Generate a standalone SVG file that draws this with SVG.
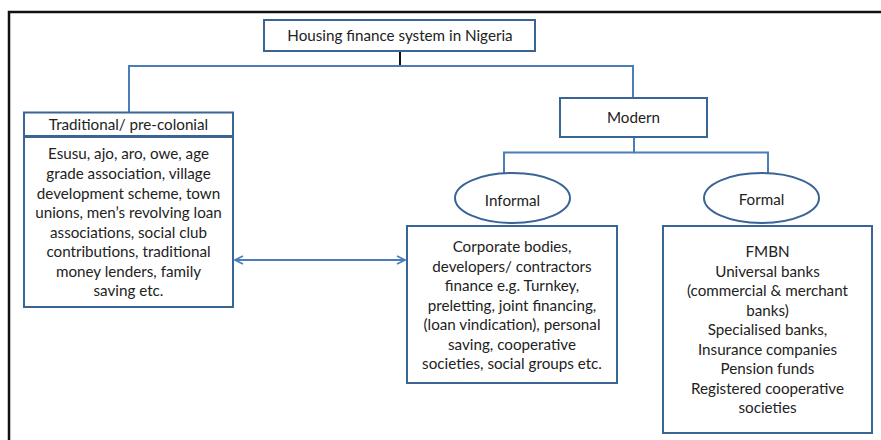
<svg xmlns="http://www.w3.org/2000/svg" width="881" height="440" viewBox="0 0 881 440">
<style>
.box{fill:#fff;stroke:#3a6496;stroke-width:2}
.con{fill:none;stroke:#4a7ebb;stroke-width:2}
text{font-family:Lato,"Open Sans","Liberation Sans",sans-serif;font-size:15.2px;fill:#222;text-anchor:middle}
</style>
<defs>
<marker id="arr" viewBox="0 0 10 10" refX="9" refY="5" markerWidth="10" markerHeight="10" markerUnits="userSpaceOnUse" orient="auto-start-reverse">
<path d="M1,1 L9,5 L1,9" fill="none" stroke="#4a7ebb" stroke-width="1.6"/>
</marker>
</defs>
<rect x="0" y="0" width="881" height="440" fill="#fff"/>
<path d="M9,445 V12 H890" fill="none" stroke="#111" stroke-width="2.5"/>
<g id="connectors">
<line x1="400" y1="51" x2="400" y2="66" stroke="#111" stroke-width="2"/>
<path class="con" d="M129,112 V66 H633 V99"/>
<path class="con" d="M634,137 V152.5 H504 V173"/>
<path class="con" d="M634,152.5 H768 V173"/>
<line class="con" x1="235" y1="260" x2="405" y2="260" marker-start="url(#arr)" marker-end="url(#arr)"/>
</g>
<g id="title">
<rect class="box" x="264" y="20" width="271" height="31"/>
<text x="400" y="41">Housing finance system in Nigeria</text>
</g>
<g id="traditional">
<rect class="box" x="24" y="112.5" width="209" height="23.5"/>
<text x="128.5" y="130">Traditional/ pre-colonial</text>
<rect class="box" x="24" y="137" width="209" height="170"/>
<text x="128.5" y="159">Esusu, ajo, aro, owe, age</text>
<text x="128.5" y="179">grade association, village</text>
<text x="128.5" y="198.5">development scheme, town</text>
<text x="128.5" y="218">unions, men’s revolving loan</text>
<text x="128.5" y="237.5">associations, social club</text>
<text x="128.5" y="257">contributions, traditional</text>
<text x="128.5" y="276.5">money lenders, family</text>
<text x="128.5" y="296">saving etc.</text>
</g>
<g id="modern">
<rect class="box" x="560" y="98" width="147" height="39"/>
<text x="633.5" y="123">Modern</text>
</g>
<g id="informal">
<ellipse class="box" cx="512.5" cy="198" rx="57.5" ry="25"/>
<text x="512.5" y="206">Informal</text>
</g>
<g id="informal-body">
<rect class="box" x="407" y="226" width="210" height="157"/>
<text x="512" y="252">Corporate bodies,</text>
<text x="512" y="271.5">developers/ contractors</text>
<text x="512" y="291">finance e.g. Turnkey,</text>
<text x="512" y="310.5">preletting, joint financing,</text>
<text x="512" y="330">(loan vindication), personal</text>
<text x="512" y="349.5">saving, cooperative</text>
<text x="512" y="369">societies, social groups etc.</text>
</g>
<g id="formal">
<ellipse class="box" cx="761.5" cy="198" rx="57.5" ry="25"/>
<text x="761.5" y="205">Formal</text>
</g>
<g id="formal-body">
<rect class="box" x="663" y="226" width="209" height="207"/>
<text x="767.5" y="257">FMBN</text>
<text x="767.5" y="276.5">Universal banks</text>
<text x="767.5" y="296">(commercial &amp; merchant</text>
<text x="767.5" y="315.5">banks)</text>
<text x="767.5" y="335">Specialised banks,</text>
<text x="767.5" y="354.5">Insurance companies</text>
<text x="767.5" y="374">Pension funds</text>
<text x="767.5" y="393.5">Registered cooperative</text>
<text x="767.5" y="413">societies</text>
</g>
</svg>
